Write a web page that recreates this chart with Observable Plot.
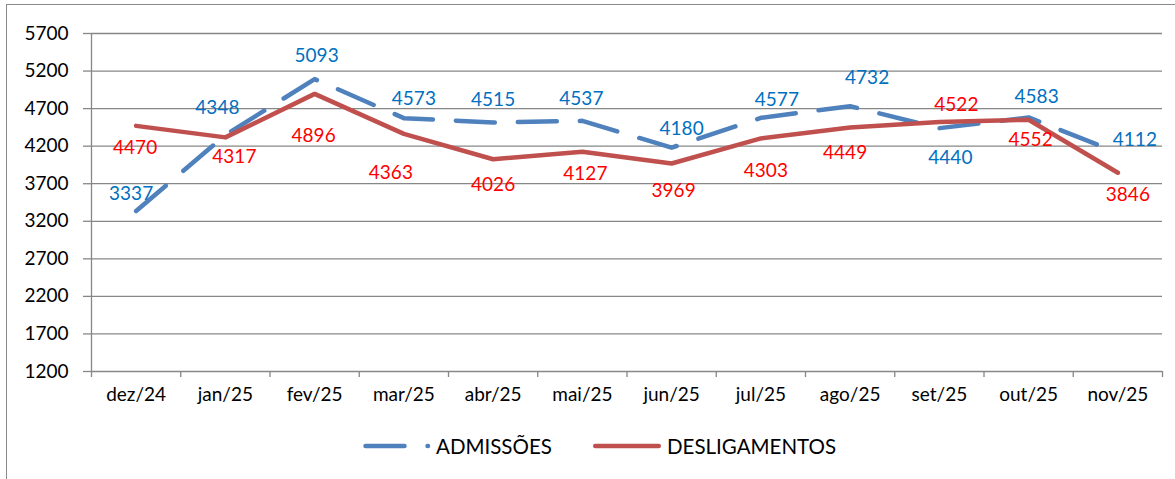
<!DOCTYPE html>
<html><head><meta charset="utf-8">
<script src="https://cdn.jsdelivr.net/npm/d3@7"></script>
<script src="https://cdn.jsdelivr.net/npm/@observablehq/plot@0.6"></script>
<style>
body{margin:0;background:#fff;}
#wrap{position:relative;width:1175px;height:479px;overflow:hidden;font-family:Lato,sans-serif;background:#fff;}
#frame{position:absolute;left:6px;top:4px;width:1300px;height:600px;border-top:1.5px solid #8a8a8a;border-left:1.5px solid #8a8a8a;}
#chart{position:absolute;left:0;top:0;}
.leg{position:absolute;top:433px;height:26px;display:flex;align-items:center;font-size:20.5px;color:#000;white-space:nowrap;}
.leg svg{display:block;}
</style></head><body>
<div id="wrap">
  <div id="frame"></div>
  <div id="chart"></div>
  <div class="leg" style="left:363px">
    <svg width="68" height="10"><line x1="2.5" y1="5" x2="65" y2="5" stroke="#4F81BD" stroke-width="4.5" stroke-dasharray="39,23" stroke-linecap="round"/></svg>
    <span style="margin-left:5px">ADMISSÕES</span>
  </div>
  <div class="leg" style="left:593px">
    <svg width="68" height="10"><line x1="2.25" y1="5" x2="65.75" y2="5" stroke="#C0504D" stroke-width="4.5" stroke-linecap="round"/></svg>
    <span style="margin-left:6px">DESLIGAMENTOS</span>
  </div>
</div>
<script>
// ---- data ----
const months = ["dez/24","jan/25","fev/25","mar/25","abr/25","mai/25","jun/25","jul/25","ago/25","set/25","out/25","nov/25"];
const admissoes = [3337,4348,5093,4573,4515,4537,4180,4577,4732,4440,4583,4112];
const desligamentos = [4470,4317,4896,4363,4026,4127,3969,4303,4449,4522,4552,3846];
const yTicks = [1200,1700,2200,2700,3200,3700,4200,4700,5200,5700];

// label placement offsets (pixels), as in the reference
const admDx = [-5,-8,2,10,0,-1,10,16,17,11,8,17];
const admDy = [-17,-27,-23,-19,-23,-22,-19,-18,-28,30,-20,-13];
const deslDx = [-1,9,-1,-13,0,3,2,5,-5,17,2,10];
const deslDy = [22,20,42,39,26,22,27,32,25,-17,20,22];

const rows = months.map((m, i) => ({i, m, adm: admissoes[i], desl: desligamentos[i]}));
const boundaries = d3.range(months.length + 1).map(k => k - 0.5);
const grid = "#878787";

const admLabels = rows.map((r, k) => Plot.text([r], {x: "i", y: "adm", text: d => String(d.adm), fill: "#0070C0", dx: admDx[k], dy: admDy[k], textAnchor: "middle", lineAnchor: "middle"}));
const deslLabels = rows.map((r, k) => Plot.text([r], {x: "i", y: "desl", text: d => String(d.desl), fill: "#FF0000", dx: deslDx[k], dy: deslDy[k], textAnchor: "middle", lineAnchor: "middle"}));

const chart = Plot.plot({
  width: 1175, height: 415,
  marginLeft: 91, marginRight: 13, marginTop: 33, marginBottom: 44,
  style: {fontFamily: "Lato, sans-serif", fontSize: "19px", color: "#000", background: "transparent", overflow: "visible"},
  x: {domain: [-0.5, months.length - 0.5], label: null},
  y: {domain: [1200, 5700], label: null},
  marks: [
    Plot.gridY(yTicks, {stroke: grid, strokeOpacity: 1, strokeWidth: 1.3}),
    Plot.axisY(yTicks, {tickSize: 8, tickPadding: 15, stroke: grid, strokeWidth: 1.3, fill: "#000", label: null, tickFormat: d => String(d)}),
    Plot.axisX(boundaries, {tickSize: 6, stroke: grid, strokeWidth: 1.3, label: null, tickFormat: () => ""}),
    Plot.axisX(d3.range(months.length), {tickSize: 0, tickPadding: 16, fill: "#000", label: null, tickFormat: i => months[i]}),
    Plot.ruleX([-0.5], {stroke: grid, strokeWidth: 1.3}),
    Plot.line(rows, {x: "i", y: "adm", stroke: "#4F81BD", strokeWidth: 4.5, strokeDasharray: "39,23", strokeLinecap: "round", strokeLinejoin: "round"}),
    Plot.line(rows, {x: "i", y: "desl", stroke: "#C0504D", strokeWidth: 4.5, strokeLinecap: "round", strokeLinejoin: "round"}),
    ...admLabels,
    ...deslLabels
  ]
});
document.getElementById("chart").appendChild(chart);
</script>
</body></html>
